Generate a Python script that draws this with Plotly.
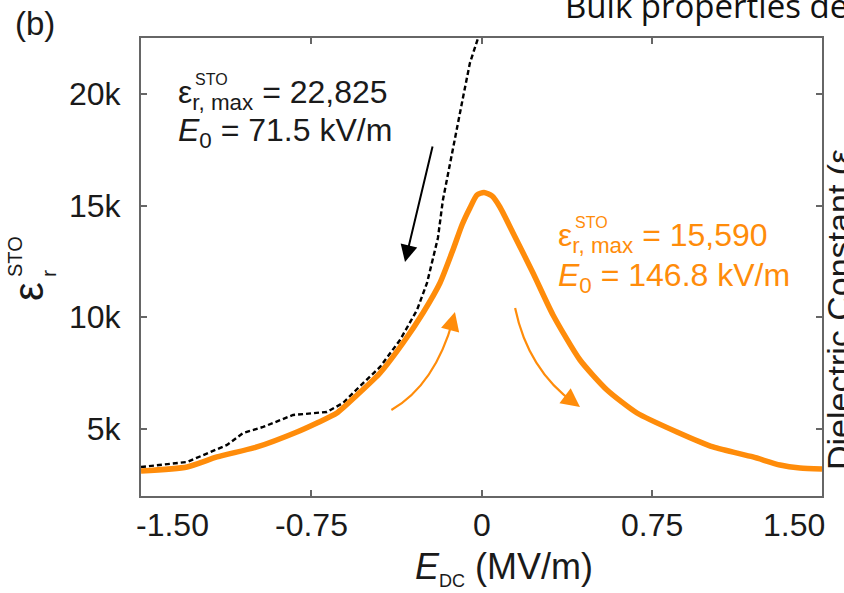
import plotly.graph_objects as go

# ---------------- data ----------------
orange_x = [-1.50, -1.297, -1.165, -0.989, -0.813, -0.725, -0.637, -0.548, -0.447, -0.346,
            -0.258, -0.183, -0.126, -0.086, -0.051, -0.020, 0.011, 0.046, 0.081, 0.139,
            0.227, 0.315, 0.434, 0.553, 0.685, 0.861, 1.020, 1.196, 1.315, 1.403, 1.50]
orange_y = [3120, 3300, 3747, 4195, 4866, 5269, 5716, 6522, 7507, 8849,
            10192, 11535, 13012, 14131, 14892, 15474, 15590, 15429, 14937, 13773,
            11983, 10103, 8088, 6746, 5716, 4866, 4195, 3747, 3389, 3254, 3210]

dashed_x = [-1.50, -1.297, -1.121, -1.050, -0.962, -0.830, -0.681, -0.610, -0.548, -0.447,
            -0.359, -0.284, -0.240, -0.192, -0.170, -0.139, -0.108, -0.081, -0.051, -0.015, 0.0]
dashed_y = [3299, 3523, 4284, 4821, 5090, 5627, 5761, 6164, 6790, 7775,
            8984, 10326, 11535, 13549, 15250, 16906, 18383, 19860, 21382, 22501, 22825]

x_tickvals = [-1.50, -0.75, 0.0, 0.75, 1.50]
x_ticktext = ["-1.50", "-0.75", "0", "0.75", "1.50"]
y_tickvals = [5000, 10000, 15000, 20000]
y_ticktext = ["5k", "10k", "15k", "20k"]

ORANGE = "#FF8C0A"
AXC = "#666666"
TXT = "#1a1a1a"
FONT = "Liberation Sans"

fig = go.Figure()
fig.add_trace(go.Scatter(x=dashed_x, y=dashed_y, mode="lines",
                         line=dict(color="black", width=2.4, dash="5px,3px"),
                         showlegend=False, hoverinfo="skip"))
fig.add_trace(go.Scatter(x=orange_x, y=orange_y, mode="lines",
                         line=dict(color=ORANGE, width=5.5, shape="spline", smoothing=0.6),
                         showlegend=False, hoverinfo="skip"))

W, H = 844, 593
L, R, T, B = 141, 22, 38, 97
pw, ph = W - L - R, H - T - B


def px(xp):
    return (xp - L) / pw


def py(yp):
    return (H - B - yp) / ph


ann = []
# x tick labels
for i, (v, t) in enumerate(zip(x_tickvals, x_ticktext)):
    if i == 0:
        xa, xs = "left", -7
    elif i == len(x_tickvals) - 1:
        xa, xs = "right", 5
    else:
        xa, xs = "center", 0
    ann.append(dict(x=v, y=0, xref="x", yref="paper", text=t, showarrow=False,
                    xanchor=xa, yanchor="top", xshift=xs, yshift=-9,
                    font=dict(family=FONT, size=32, color=TXT)))

# x title
ann.append(dict(x=px(504), y=py(568), xref="paper", yref="paper",
                text="<i>E</i><sub><span style='font-size:18px'>DC</span></sub> (MV/m)",
                showarrow=False, xanchor="center", yanchor="middle",
                font=dict(family=FONT, size=36, color=TXT)))

# y title (stacked)
ann.append(dict(x=px(28), y=py(291), xref="paper", yref="paper", text="ε",
                showarrow=False, textangle=-90, xanchor="center", yanchor="middle",
                font=dict(family=FONT, size=42, color=TXT)))
ann.append(dict(x=px(48), y=py(274), xref="paper", yref="paper", text="r",
                showarrow=False, textangle=-90, xanchor="center", yanchor="middle",
                font=dict(family=FONT, size=21, color=TXT)))
ann.append(dict(x=px(15), y=py(257), xref="paper", yref="paper", text="STO",
                showarrow=False, textangle=-90, xanchor="center", yanchor="middle",
                font=dict(family=FONT, size=20, color=TXT)))

# (b)
ann.append(dict(x=px(35), y=py(23), xref="paper", yref="paper", text="(b)",
                showarrow=False, xanchor="center", yanchor="middle",
                font=dict(family=FONT, size=33, color=TXT)))

# clipped headline at top
ann.append(dict(x=px(563), y=py(30), xref="paper", yref="paper", text="Bulk properties dev",
                showarrow=False, xanchor="left", yanchor="bottom",
                font=dict(family="Open Sans", size=33, color="#111")))

# clipped right label
ann.append(dict(x=px(818), y=py(310), xref="paper", yref="paper", text="Dielectric Constant (ε",
                showarrow=False, textangle=-90, xanchor="left", yanchor="middle",
                font=dict(family=FONT, size=34, color=TXT)))


def eps_label(x, y, value, color):
    out = []
    out.append(dict(x=x, y=y, xref="x", yref="y",
                    text="ε<sub>r, max</sub> = " + value, showarrow=False,
                    xanchor="left", yanchor="middle",
                    font=dict(family=FONT, size=32, color=color)))
    out.append(dict(x=x, y=y, xref="x", yref="y", text="STO", showarrow=False,
                    xanchor="left", yanchor="middle", xshift=17, yshift=15,
                    font=dict(family=FONT, size=16, color=color)))
    return out


def e0_label(x, y, value, color):
    return dict(x=x, y=y, xref="x", yref="y",
                text="<i>E</i><sub>0</sub> = " + value, showarrow=False,
                xanchor="left", yanchor="middle",
                font=dict(family=FONT, size=32, color=color))


ann += eps_label(-1.345, 19950, "22,825", TXT)
ann.append(e0_label(-1.345, 18249, "71.5 kV/m", TXT))
ann += eps_label(0.33, 13549, "15,590", ORANGE)
ann.append(e0_label(0.33, 11800, "146.8 kV/m", ORANGE))

# black straight arrow
ann.append(dict(x=-0.337, y=12475, ax=-0.214, ay=17712, xref="x", yref="y",
                axref="x", ayref="y", text="", showarrow=True, arrowhead=2,
                arrowsize=1.7, arrowwidth=2, arrowcolor="black"))

# orange curved arrows: path + head
shapes = [
    dict(type="path", xref="x", yref="y",
         path="M -0.397,5850 Q -0.205,6970 -0.125,9900",
         line=dict(color=ORANGE, width=2.2)),
    dict(type="path", xref="x", yref="y",
         path="M 0.148,10416 Q 0.205,7641 0.41,6150",
         line=dict(color=ORANGE, width=2.2)),
]
ann.append(dict(x=-0.117, y=10237, ax=-4, ay=15, xref="x", yref="y", text="",
                showarrow=True, arrowhead=2, arrowsize=1.7, arrowwidth=2.2,
                arrowcolor=ORANGE))
ann.append(dict(x=0.434, y=5985, ax=-12, ay=-9, xref="x", yref="y", text="",
                showarrow=True, arrowhead=2, arrowsize=1.7, arrowwidth=2.2,
                arrowcolor=ORANGE))

fig.update_layout(
    width=W, height=H,
    margin=dict(l=L, r=R, t=T, b=B),
    paper_bgcolor="white", plot_bgcolor="white",
    showlegend=False,
    annotations=ann,
    shapes=shapes,
)
fig.update_xaxes(range=[-1.5, 1.5], tickvals=x_tickvals, showticklabels=False,
                 ticks="inside", ticklen=6, tickcolor=AXC, tickwidth=1.5,
                 showline=True, linecolor=AXC, linewidth=2, mirror="ticks",
                 showgrid=False, zeroline=False)
fig.update_yaxes(range=[2000, 22500], tickvals=y_tickvals, ticktext=y_ticktext,
                 ticks="inside", ticklen=6, tickcolor=AXC, tickwidth=1.5,
                 showline=True, linecolor=AXC, linewidth=2, mirror="ticks",
                 showgrid=False, zeroline=False, ticklabelstandoff=12,
                 tickfont=dict(family=FONT, size=32, color=TXT))

fig.write_html("out.html")
